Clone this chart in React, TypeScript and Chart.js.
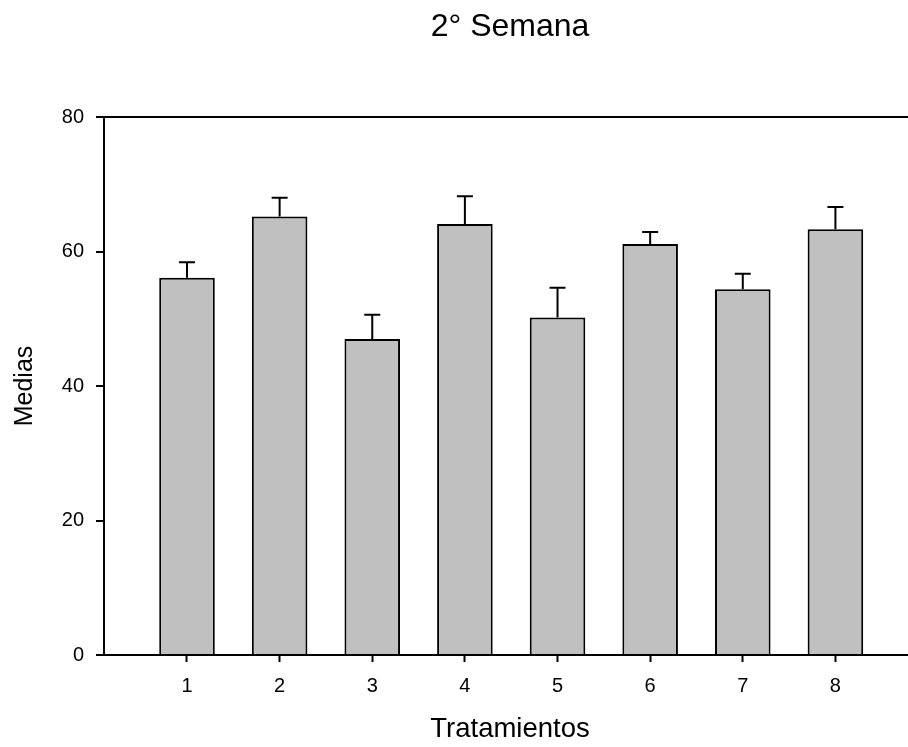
import React, { useEffect, useRef } from "react";
import { Chart, registerables } from "chart.js";

Chart.register(...registerables);

const TITLE = "2° Semana";
const X_TITLE = "Tratamientos";
const Y_TITLE = "Medias";
const CATEGORIES = [1, 2, 3, 4, 5, 6, 7, 8];
const MEANS = [56.1, 65.2, 47.0, 64.1, 50.2, 61.1, 54.4, 63.3];
const ERRORS = [2.3, 2.8, 3.6, 4.1, 4.4, 1.8, 2.3, 3.3];
const Y_TICKS = [0, 20, 40, 60, 80];
const X_MIN = 0.104;
const X_MAX = 8.87;
const Y_MIN = 0;
const Y_MAX = 80;

const FONT = "Arial, 'Liberation Sans', Helvetica, sans-serif";

const errorBars = {
  id: "errorBars",
  afterDatasetsDraw(chart: any) {
    const ctx = chart.ctx;
    const meta = chart.getDatasetMeta(0);
    const y = chart.scales.y;
    ctx.save();
    ctx.strokeStyle = "#000";
    ctx.lineWidth = 2;
    meta.data.forEach((bar: any, i: number) => {
      const top = y.getPixelForValue(MEANS[i] + ERRORS[i]);
      const x = bar.x;
      ctx.beginPath();
      ctx.moveTo(x, bar.y);
      ctx.lineTo(x, top);
      ctx.moveTo(x - 8, top);
      ctx.lineTo(x + 8, top);
      ctx.stroke();
    });
    ctx.restore();
  },
};

export default function App() {
  const ref = useRef<HTMLCanvasElement | null>(null);

  useEffect(() => {
    if (!ref.current) return;
    const chart = new Chart(ref.current, {
      type: "bar",
      data: {
        datasets: [
          {
            data: CATEGORIES.map((c, i) => ({ x: c, y: MEANS[i] })),
            backgroundColor: "#c0c0c0",
            borderColor: "#000",
            borderWidth: 2,
            borderSkipped: "start",
            barPercentage: 0.6,
            categoryPercentage: 1,
          },
        ],
      },
      options: {
        animation: false,
        responsive: false,
        devicePixelRatio: 1,
        layout: { padding: { left: 0, right: 14, top: 0, bottom: 0 } },
        plugins: {
          legend: { display: false },
          tooltip: { enabled: false },
          title: {
            display: true,
            text: TITLE,
            fullSize: false,
            color: "#000",
            font: { family: FONT, size: 32, weight: "normal" },
            padding: { top: 7.5, bottom: 71.1 },
          },
        },
        scales: {
          x: {
            type: "linear",
            min: X_MIN,
            max: X_MAX,
            offset: false,
            afterBuildTicks: (scale: any) => {
              scale.ticks = CATEGORIES.map((v) => ({ value: v }));
            },
            afterFit: (scale: any) => {
              scale.height = 92;
            },
            ticks: {
              color: "#000",
              font: { family: FONT, size: 20 },
              padding: 12,
              maxRotation: 0,
              autoSkip: false,
              callback: (v: any) => String(v),
            },
            grid: {
              offset: false,
              drawOnChartArea: false,
              drawTicks: true,
              tickLength: 7,
              tickColor: "#000",
              tickWidth: 2,
            },
            border: { display: true, color: "#000", width: 2 },
            title: {
              display: true,
              text: X_TITLE,
              color: "#000",
              font: { family: FONT, size: 27.5 },
              padding: { top: 0, bottom: 1 },
            },
          },
          y: {
            min: Y_MIN,
            max: Y_MAX,
            afterBuildTicks: (scale: any) => {
              scale.ticks = Y_TICKS.map((v) => ({ value: v }));
            },
            afterFit: (scale: any) => {
              scale.width = 104;
            },
            ticks: {
              color: "#000",
              font: { family: FONT, size: 20 },
              padding: 12,
            },
            grid: {
              offset: false,
              drawOnChartArea: true,
              color: (c: any) => (c.tick && c.tick.value === Y_MAX ? "#000" : "rgba(0,0,0,0)"),
              lineWidth: 2,
              drawTicks: true,
              tickLength: 8,
              tickColor: "#000",
              tickWidth: 2,
            },
            border: { display: true, color: "#000", width: 2 },
            title: {
              display: true,
              text: Y_TITLE,
              color: "#000",
              font: { family: FONT, size: 25 },
              padding: { top: 10, bottom: 0 },
            },
          },
        },
      },
      plugins: [errorBars],
    });
    return () => chart.destroy();
  }, []);

  return (
    <div
      style={{
        position: "fixed",
        left: 0,
        top: 0,
        width: 908,
        height: 747,
        overflow: "hidden",
        background: "#fff",
      }}
    >
      <canvas ref={ref} width={930} height={747} style={{ display: "block", width: 930, height: 747 }} />
    </div>
  );
}
